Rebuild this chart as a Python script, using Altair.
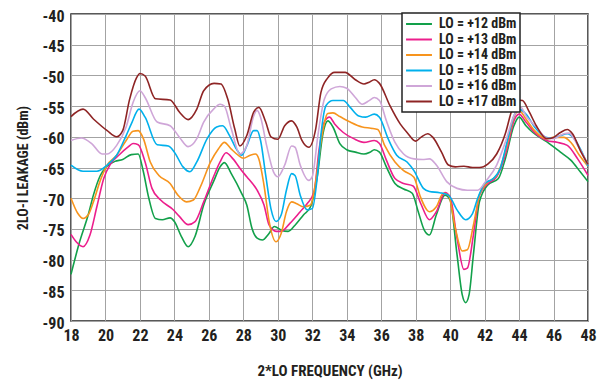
import altair as alt
import pandas as pd

FONT = "Roboto Condensed, Liberation Sans Narrow, DejaVu Sans Condensed, sans-serif"

series_names = ["LO = +12 dBm", "LO = +13 dBm", "LO = +14 dBm",
                "LO = +15 dBm", "LO = +16 dBm", "LO = +17 dBm"]
colors = ["#12a04a", "#ec1e8c", "#f7941d", "#00b0ec", "#cfa6d8", "#8e2424"]

x12 = [18, 18.5, 19.0, 19.3, 19.7, 20.1, 20.55, 21.0, 21.5, 21.9, 22.2, 22.5, 22.9, 23.3, 23.75, 24.0, 24.4, 24.8, 25.2, 25.7, 26.3, 26.65, 26.9, 27.3, 27.9, 28.2, 28.5, 28.8, 29.1, 29.5, 29.8, 30.2, 30.6, 31.0, 31.5, 31.9, 32.3, 32.6, 32.9, 33.2, 33.6, 34.0, 34.5, 35.0, 35.35, 35.6, 35.9, 36.3, 36.8, 37.3, 37.8, 38.15, 38.5, 38.8, 39.2, 39.7, 40.0, 40.4, 40.7, 40.9, 41.1, 41.35, 41.7, 42.2, 42.8, 43.2, 43.7, 44.0, 44.4, 44.8, 45.6, 46.4, 47.0, 47.55, 48.0]
y12 = [-82.4, -77.1, -72.7, -69.5, -66.3, -64.8, -64, -63.7, -62.9, -62.8, -65.7, -69.8, -73.3, -73.5, -73.2, -73.8, -76.2, -77.9, -76.2, -71.1, -67.1, -64.9, -64.2, -66, -69.2, -71.1, -74.9, -76.5, -76.8, -75.7, -74.6, -75.2, -75.4, -74.4, -72.7, -71.4, -66.3, -59.8, -57.4, -58.4, -61.1, -62.1, -62.5, -62.8, -62.5, -62.1, -62.5, -64.9, -67.6, -68.5, -69.2, -72.2, -75.2, -76, -72.7, -69.5, -70.3, -79.2, -85.7, -87, -85.7, -79.2, -70.6, -67.8, -66.8, -63.6, -58.2, -56.8, -58.2, -59.3, -60.8, -62.5, -63.8, -65.7, -67.3]

x13 = [18, 18.3, 18.7, 19.1, 19.5, 19.9, 20.3, 20.85, 21.3, 21.6, 21.9, 22.3, 22.7, 23.2, 23.9, 24.3, 24.8, 25.2, 25.7, 26.3, 26.65, 27.0, 27.4, 27.9, 28.2, 28.8, 29.2, 29.5, 29.9, 30.2, 30.7, 31.3, 31.7, 32.1, 32.4, 32.7, 33.0, 33.3, 33.8, 34.4, 35.0, 35.6, 35.9, 36.3, 36.8, 37.3, 37.85, 38.3, 38.8, 39.2, 39.7, 40.0, 40.4, 40.8, 41.0, 41.35, 41.7, 42.2, 42.7, 43.3, 43.7, 44.0, 44.4, 44.9, 45.6, 46.2, 46.8, 47.4, 48.0]
y13 = [-75.9, -77.1, -77.9, -76, -71.4, -66.8, -64.4, -62.8, -61.7, -61.1, -61.3, -64.1, -68.4, -70.3, -71.8, -73, -74.3, -73.8, -70.6, -66.3, -64.1, -62.6, -63.6, -65.5, -66.5, -68.7, -71.1, -74.4, -75.4, -75.4, -74.1, -72.2, -70.9, -69, -62, -57.6, -56.8, -57.9, -59.3, -60.3, -60.9, -60.6, -61.1, -63.8, -66.8, -67.6, -68, -70.9, -73.5, -72.2, -69.1, -69.8, -76.5, -81.6, -81.4, -76, -69.5, -67.6, -66.5, -62, -57.4, -56.3, -57.6, -59.3, -60.6, -60.9, -61.4, -63.6, -66.3]

x14 = [18, 18.4, 18.7, 19.0, 19.3, 19.7, 20.1, 20.65, 21.2, 21.6, 21.9, 22.2, 22.6, 23.1, 23.75, 24.2, 24.7, 25.1, 25.5, 26.1, 26.55, 26.9, 27.3, 27.7, 28.0, 28.4, 28.7, 28.9, 29.2, 29.5, 29.9, 30.2, 30.5, 30.8, 31.1, 31.5, 31.9, 32.2, 32.5, 32.9, 33.2, 33.6, 34.2, 34.9, 35.4, 35.8, 36.2, 36.8, 37.3, 37.9, 38.25, 38.8, 39.2, 39.6, 39.9, 40.3, 40.7, 41.0, 41.35, 41.7, 42.1, 42.7, 43.3, 43.7, 44.0, 44.4, 44.9, 45.6, 46.0, 46.6, 47.0, 47.5, 48.0]
y14 = [-70, -72.5, -73.3, -72.7, -70.6, -67.1, -64.6, -63, -60.6, -59.1, -59, -60.3, -64.1, -66.3, -67.6, -69.5, -70.6, -70.3, -68.2, -64.1, -62, -60.9, -62, -63, -63.5, -63, -62.8, -63.6, -67.9, -73.8, -77.1, -75.7, -72.2, -70.6, -70.9, -71.4, -71.1, -67.3, -60.9, -56.2, -56.1, -56.7, -57.6, -58.4, -58.6, -58.8, -61.4, -64.1, -65.5, -66.6, -69.6, -72.2, -71.4, -69.2, -69.5, -74.9, -78.6, -78.4, -74.4, -69.5, -67.6, -66.3, -61.4, -56.8, -55.7, -57.1, -59, -60.3, -60.1, -60.1, -60.9, -63, -64.8]

x15 = [18, 18.7, 19.5, 20.1, 20.65, 21.2, 21.5, 21.95, 22.3, 23.0, 23.65, 24.0, 24.5, 24.9, 25.3, 25.9, 26.45, 26.8, 27.2, 27.6, 27.9, 28.2, 28.6, 28.8, 29.0, 29.3, 29.6, 29.9, 30.2, 30.5, 30.8, 31.0, 31.3, 31.7, 32.0, 32.3, 32.5, 32.8, 33.2, 33.8, 34.2, 34.7, 35.1, 35.6, 35.9, 36.4, 36.9, 37.5, 37.9, 38.45, 38.8, 39.4, 39.9, 40.4, 40.9, 41.3, 41.6, 42.0, 42.5, 42.9, 43.3, 43.7, 44.0, 44.4, 44.9, 45.6, 46.0, 46.4, 46.8, 47.2, 47.65, 48.0]
y15 = [-64.6, -65.6, -65.6, -64.6, -63, -59.8, -57.9, -55.5, -56.8, -61.3, -61.5, -62.5, -64.9, -65.7, -64.1, -60.3, -58.4, -58.2, -59.8, -62, -63, -61.5, -59, -59, -60.6, -66.3, -71.7, -73.8, -72.7, -68.7, -66, -66.3, -69.5, -71.9, -71.7, -66.3, -59.8, -54.9, -54.1, -54.1, -55.2, -56.6, -56.8, -56.3, -56.8, -60.3, -63, -64.1, -65.5, -68.4, -68.9, -69.1, -69.5, -71.9, -73.5, -72.5, -70, -67.6, -66.8, -65.2, -60.9, -56.6, -55.5, -56.3, -58.4, -60.1, -60.2, -59.8, -59.5, -60.3, -62.5, -64.8]

x16 = [18, 18.6, 19.2, 19.8, 20.1, 20.65, 21.2, 21.6, 22.0, 22.3, 23.0, 23.75, 24.3, 24.8, 25.3, 25.7, 26.3, 26.65, 26.9, 27.3, 27.8, 28.2, 28.6, 28.8, 29.0, 29.35, 29.75, 30.0, 30.4, 30.8, 31.0, 31.3, 31.8, 32.0, 32.35, 32.7, 33.1, 33.6, 34.0, 34.5, 34.9, 35.3, 35.6, 35.9, 36.3, 36.8, 37.3, 37.9, 38.4, 38.8, 39.2, 39.8, 40.4, 41.0, 41.6, 42.1, 42.7, 43.2, 43.7, 44.1, 44.4, 45.0, 45.6, 46.0, 46.6, 46.9, 47.4, 48.0]
y16 = [-60.6, -60.2, -61.1, -62.8, -62.8, -61.4, -58.4, -54.4, -52.5, -53.6, -57.6, -58.2, -60.1, -61.6, -60.3, -57.6, -55.4, -54.7, -55, -58.7, -62.8, -61.4, -56.6, -55.7, -56.8, -61.4, -65.7, -66.5, -64.6, -61.5, -61.7, -64.6, -67.1, -66.5, -59.3, -53.9, -52.2, -51.8, -52.1, -53.6, -54.7, -54.1, -53.6, -54.1, -57.4, -60.9, -62.8, -63.6, -63.7, -63.6, -64.6, -67.3, -68.4, -68.7, -68.7, -67.1, -64.6, -60.9, -56.6, -55.2, -56.6, -58.4, -60.2, -60.3, -59.5, -59.4, -61.4, -64.5]

x17 = [18, 18.7, 19.3, 20.1, 20.65, 21.0, 21.4, 21.8, 22.0, 22.3, 22.9, 23.75, 24.3, 24.8, 25.3, 25.7, 26.3, 26.7, 27.1, 27.5, 27.8, 28.2, 28.6, 28.9, 29.3, 29.6, 30.0, 30.4, 30.8, 31.1, 31.4, 31.8, 32.2, 32.5, 32.9, 33.3, 33.9, 34.5, 35.0, 35.3, 35.6, 35.9, 36.5, 37.1, 37.5, 38.0, 38.3, 38.7, 39.0, 39.5, 39.9, 40.3, 40.8, 41.3, 41.7, 42.2, 42.7, 43.2, 43.6, 43.9, 44.2, 44.6, 45.0, 45.6, 46.0, 46.4, 46.8, 47.1, 47.6, 48.0]
y17 = [-56.7, -55.5, -57.1, -59, -60, -59, -53.9, -50.4, -49.7, -50.1, -53.8, -54, -56, -57.2, -55.5, -52.5, -51.3, -51.4, -53.9, -58.7, -61.5, -59.8, -56, -55.2, -57.6, -60, -60.4, -58.2, -57.4, -58.4, -60.6, -61.7, -58.7, -52.8, -50.4, -49.5, -49.5, -50.7, -51.4, -51.1, -50.7, -51.3, -54.9, -57.9, -59.3, -60.7, -60.1, -59.5, -60.1, -62.5, -64.6, -64.9, -64.8, -65.0, -65.0, -64.4, -62.8, -59.5, -55.5, -54, -54.1, -56, -58.2, -60.3, -60.1, -59.3, -58.8, -59.5, -62.5, -64.5]

xs_all = [x12, x13, x14, x15, x16, x17]
ys_all = [y12, y13, y14, y15, y16, y17]

rows = []
for name, xs, ys in zip(series_names, xs_all, ys_all):
    for i, (a, b) in enumerate(zip(xs, ys)):
        rows.append({"series": name, "freq": a, "leak": b, "idx": i})
df = pd.DataFrame(rows)

chart = alt.Chart(df).mark_line(strokeWidth=1.6, interpolate="monotone").encode(
    x=alt.X("freq:Q",
            scale=alt.Scale(domain=[18, 48], nice=False, zero=False),
            axis=alt.Axis(values=list(range(18, 49, 2)),
                          title="2*LO FREQUENCY (GHz)",
                          labelFlush=False, labelOverlap=False,
                          labelPadding=6, titlePadding=20, titleFontSize=15)),
    y=alt.Y("leak:Q",
            scale=alt.Scale(domain=[-90, -40], nice=False, zero=False),
            axis=alt.Axis(values=list(range(-90, -39, 5)),
                          title="2LO-I LEAKAGE (dBm)",
                          labelExpr="datum.value < 0 ? '-' + abs(datum.value) : '' + datum.value",
                          labelFlush=False, labelOverlap=False, labelOffset=2,
                          labelPadding=7, titlePadding=12, titleFontSize=14)),
    color=alt.Color("series:N",
                    scale=alt.Scale(domain=series_names, range=colors),
                    legend=alt.Legend(title=None, orient="none", legendX=331, legendY=-1,
                                      symbolType="M-1.85,0L1.85,0", symbolStrokeWidth=2,
                                      symbolSize=196, symbolOffset=6, labelOffset=12,
                                      labelFont=FONT, labelFontSize=14,
                                      labelFontWeight="bold", labelColor="#231f20",
                                      strokeColor="#222222", fillColor="white",
                                      padding=3, rowPadding=0.5)),
    order="idx:Q",
).properties(
    width=517, height=307,
    autosize=alt.AutoSizeParams(type="none"),
    padding={"left": 63, "top": 6, "right": 9, "bottom": 62},
).configure_view(
    stroke="#222222", strokeWidth=1.5
).configure_axis(
    labelFont=FONT, labelFontSize=16, labelFontWeight="bold", labelColor="#231f20",
    titleFont=FONT, titleFontWeight="bold", titleColor="#231f20",
    ticks=False, tickSize=0, domain=False,
    grid=True, gridColor="#a3a3a3", gridWidth=1, gridOpacity=1,
).configure_legend(
    strokeWidth=1.5
)

chart.save("out.html", embed_options={"renderer": "svg", "actions": False})
